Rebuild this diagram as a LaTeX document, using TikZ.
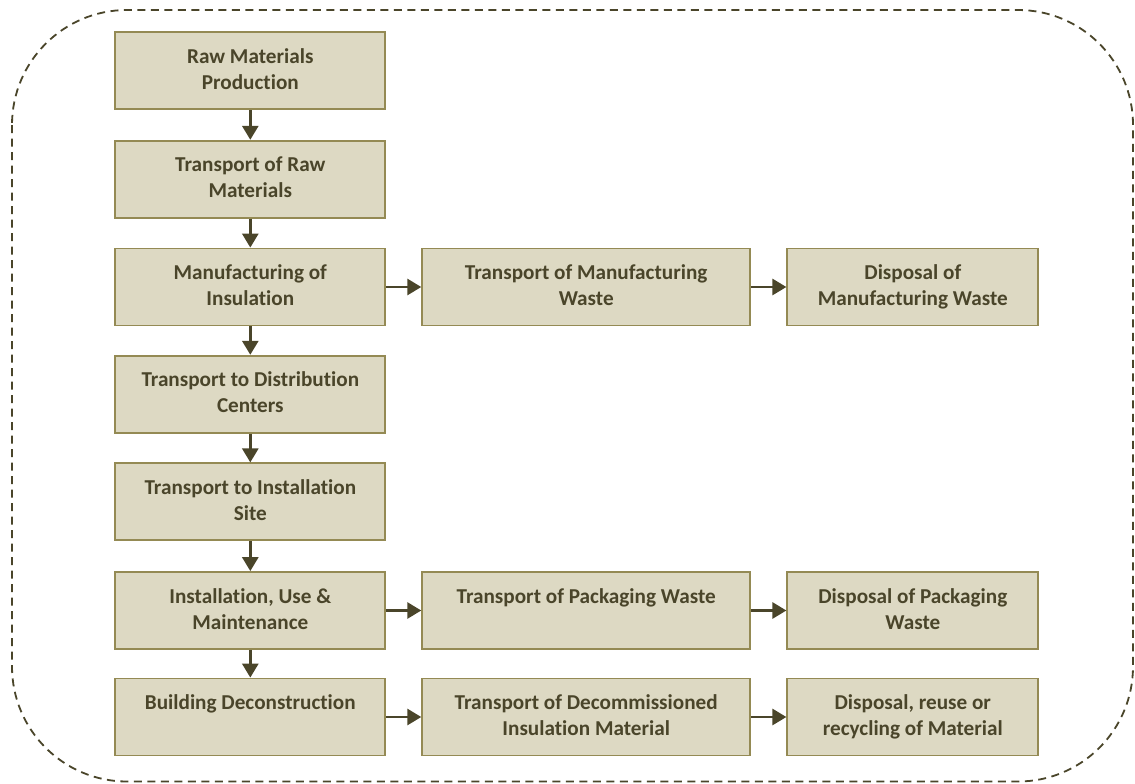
\documentclass[tikz,border=0pt]{standalone}
\usepackage{fontspec}
\setmainfont{Carlito}[Ligatures=NoCommon]
\usetikzlibrary{arrows.meta}
\definecolor{boxfill}{HTML}{DDD9C3}
\definecolor{boxline}{HTML}{948A54}
\definecolor{ink}{HTML}{4A452A}
\tikzset{
  x=1pt, y=-1pt,
  stepbox/.style={draw=boxline, fill=boxfill, line width=1.8pt, minimum height=77pt, inner sep=0pt},
  colA/.style={stepbox, minimum width=270pt},
  colB/.style={stepbox, minimum width=328pt},
  colC/.style={stepbox, minimum width=251pt},
  lbl/.style={anchor=base, align=center, text=ink, font=\fontsize{21.2}{26}\selectfont\bfseries, inner sep=0pt},
  flow/.style={draw=ink, line width=2.8pt, -{Triangle[length=14pt, width=16pt]}},
  frame/.style={draw=ink, line width=1.8pt, dash pattern=on 8pt off 5.5pt, rounded corners=115pt}
}
\begin{document}
\begin{tikzpicture}
\useasboundingbox (0,0) rectangle (1135,784);
\draw[frame] (12,10) rectangle (1133,781.5);
% column A
\node[colA] (a1) at (250.3,70.8) {};
\node[colA] (a2) at (250.3,179.2) {};
\node[colA] (a3) at (250.3,287) {};
\node[colA] (a4) at (250.3,394.2) {};
\node[colA] (a5) at (250.3,501.8) {};
\node[colA] (a6) at (250.3,610.5) {};
\node[colA] (a7) at (250.3,717) {};
% column B
\node[colB] (b3) at (586.2,287) {};
\node[colB] (b6) at (586.2,610.5) {};
\node[colB] (b7) at (586.2,717) {};
% column C
\node[colC] (c3) at (912.8,287) {};
\node[colC] (c6) at (912.8,610.5) {};
\node[colC] (c7) at (912.8,717) {};
% labels (base anchor = baseline of last line)
\node[lbl] (ta1) at ([yshift=-58pt]a1.north) {Raw Materials\\Production};
\node[lbl] (ta2) at ([yshift=-58pt]a2.north) {Transport of Raw\\Materials};
\node[lbl] (ta3) at ([yshift=-58pt]a3.north) {Manufacturing of\\Insulation};
\node[lbl] (ta4) at ([yshift=-58pt]a4.north) {Transport to Distribution\\Centers};
\node[lbl] (ta5) at ([yshift=-58pt]a5.north) {Transport to Installation\\Site};
\node[lbl] (ta6) at ([yshift=-58pt]a6.north) {Installation, Use \&\\Maintenance};
\node[lbl] (ta7) at ([yshift=-32pt]a7.north) {Building Deconstruction};
\node[lbl] (tb3) at ([yshift=-58pt]b3.north) {Transport of Manufacturing\\Waste};
\node[lbl] (tb6) at ([yshift=-32pt]b6.north) {Transport of Packaging Waste};
\node[lbl] (tb7) at ([yshift=-58pt]b7.north) {Transport of Decommissioned\\Insulation Material};
\node[lbl] (tc3) at ([yshift=-58pt]c3.north) {Disposal of\\Manufacturing Waste};
\node[lbl] (tc6) at ([yshift=-58pt]c6.north) {Disposal of Packaging\\Waste};
\node[lbl] (tc7) at ([yshift=-58pt]c7.north) {Disposal, reuse or\\recycling of Material};
% connectors
\draw[flow] (a1) -- (a2);
\draw[flow] (a2) -- (a3);
\draw[flow] (a3) -- (a4);
\draw[flow] (a4) -- (a5);
\draw[flow] (a5) -- (a6);
\draw[flow] (a6) -- (a7);
\draw[flow] (a3) -- (b3);
\draw[flow] (b3) -- (c3);
\draw[flow] (a6) -- (b6);
\draw[flow] (b6) -- (c6);
\draw[flow] (a7) -- (b7);
\draw[flow] (b7) -- (c7);
\end{tikzpicture}
\end{document}
